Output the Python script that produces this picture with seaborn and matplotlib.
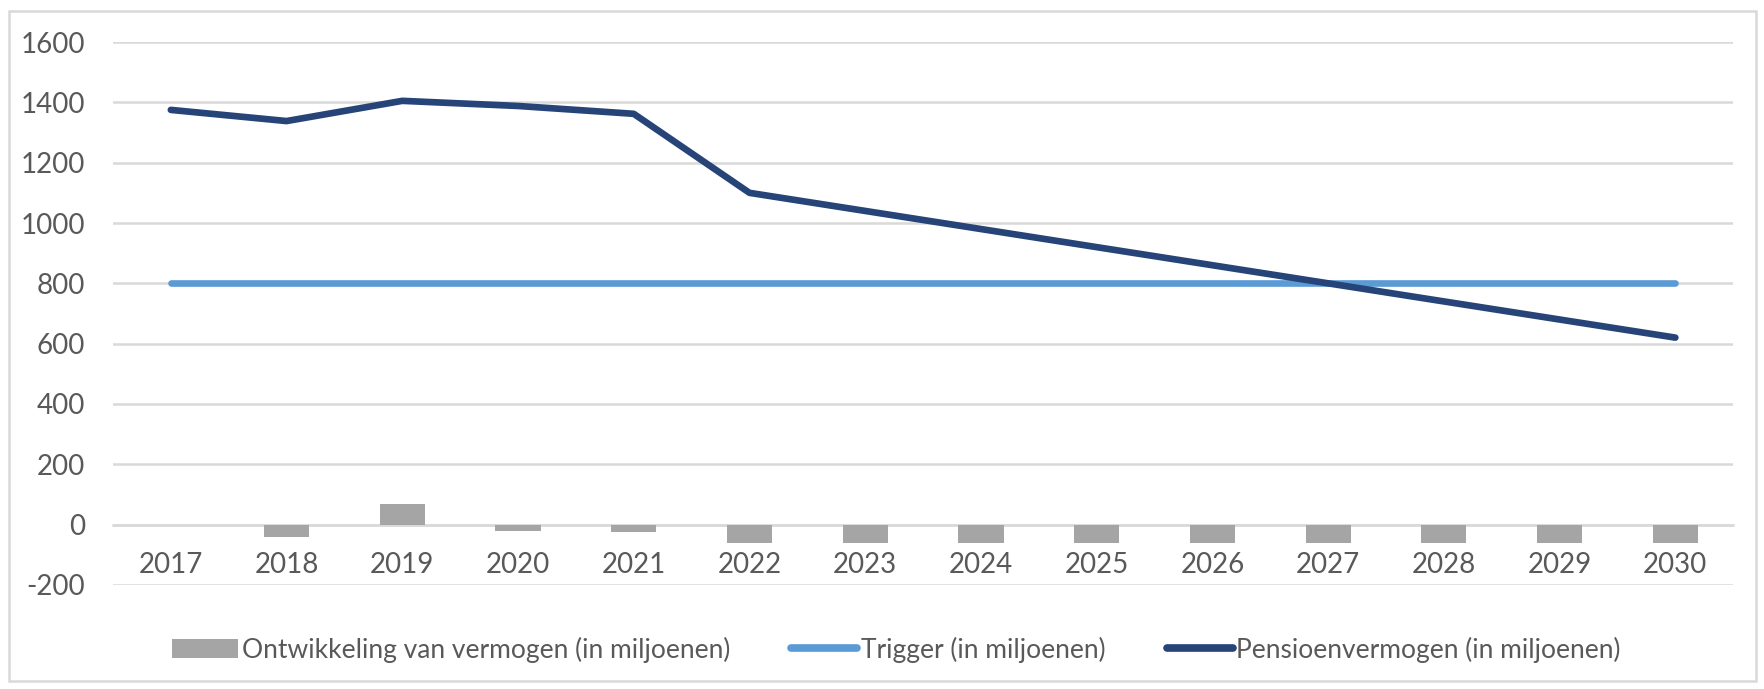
"""
Pensioenvermogen vs. trigger, with yearly development bars (Excel-style chart).
"""

import matplotlib.pyplot as plt
import seaborn as sns
import pandas as pd
from matplotlib.lines import Line2D
from matplotlib.patches import Patch, Rectangle

# ── Data ───────────────────────────────────────────────────────────────
years = ["2017", "2018", "2019", "2020", "2021", "2022", "2023",
         "2024", "2025", "2026", "2027", "2028", "2029", "2030"]
ontwikkeling = [0, -40, 70, -20, -25, -60, -60, -60, -60, -60, -60, -60, -60, -60]
trigger = [800] * 14
pensioenvermogen = [1375, 1338, 1405, 1388, 1362, 1100, 1040, 980,
                    920, 860, 800, 740, 680, 620]

labels = [
    "Ontwikkeling van vermogen (in miljoenen)",
    "Trigger (in miljoenen)",
    "Pensioenvermogen (in miljoenen)",
]

BAR_COLOR = "#a5a5a5"
TRIGGER_COLOR = "#5b9bd5"
PENSION_COLOR = "#264478"
GRID_COLOR = "#d9d9d9"
TEXT_COLOR = "#595959"

sns.set_theme(style="white")
plt.rcParams["font.family"] = ["Lato", "DejaVu Sans"]
plt.rcParams["axes.unicode_minus"] = False

df = pd.DataFrame({
    "year": years,
    "ontwikkeling": ontwikkeling,
    "trigger": trigger,
    "pensioen": pensioenvermogen,
})

fig = plt.figure(figsize=(17.65, 6.89), dpi=100)
ax = fig.add_axes([0.064, 0.151, 0.918, 0.788])

sns.barplot(data=df, x="year", y="ontwikkeling", color=BAR_COLOR,
            saturation=1, width=0.39, linewidth=0, ax=ax, zorder=3)
sns.lineplot(data=df, x="year", y="trigger", color=TRIGGER_COLOR,
             linewidth=4.8, ax=ax, zorder=4, sort=False)
sns.lineplot(data=df, x="year", y="pensioen", color=PENSION_COLOR,
             linewidth=4.8, ax=ax, zorder=5, sort=False)
for line in ax.lines:
    line.set_solid_capstyle("round")
    line.set_solid_joinstyle("round")

ax.set_xlim(-0.5, len(years) - 0.5)
ax.set_ylim(-200, 1600)
ax.set_yticks(range(-200, 1601, 200))
ax.yaxis.grid(True, color=GRID_COLOR, linewidth=1.8, zorder=0)
ax.set_axisbelow(True)
ax.set_xlabel("")
ax.set_ylabel("")

for side in ["top", "right", "left"]:
    ax.spines[side].set_visible(False)
ax.spines["bottom"].set_position(("data", 0))
ax.spines["bottom"].set_color(GRID_COLOR)
ax.spines["bottom"].set_linewidth(1.8)

ax.tick_params(axis="x", length=0, pad=20, labelsize=20, labelcolor=TEXT_COLOR)
ax.tick_params(axis="y", length=0, pad=20, labelsize=20, labelcolor=TEXT_COLOR)

handles = [
    Patch(facecolor=BAR_COLOR, edgecolor="none"),
    Line2D([0], [0], color=TRIGGER_COLOR, linewidth=5.5, solid_capstyle="round"),
    Line2D([0], [0], color=PENSION_COLOR, linewidth=5.5, solid_capstyle="round"),
]
fig.legend(handles, labels, loc="center", bbox_to_anchor=(0.508, 0.057),
           ncol=3, frameon=False, fontsize=19, labelcolor=TEXT_COLOR,
           handlelength=2.5, handleheight=0.75, handletextpad=0.15,
           columnspacing=2.3)

# light outer border as in the Excel chart area
fig.patches.append(Rectangle((0.005, 0.012), 0.99, 0.972, transform=fig.transFigure,
                             fill=False, edgecolor=GRID_COLOR, linewidth=1.8))

fig.savefig("out.png", dpi=100)
